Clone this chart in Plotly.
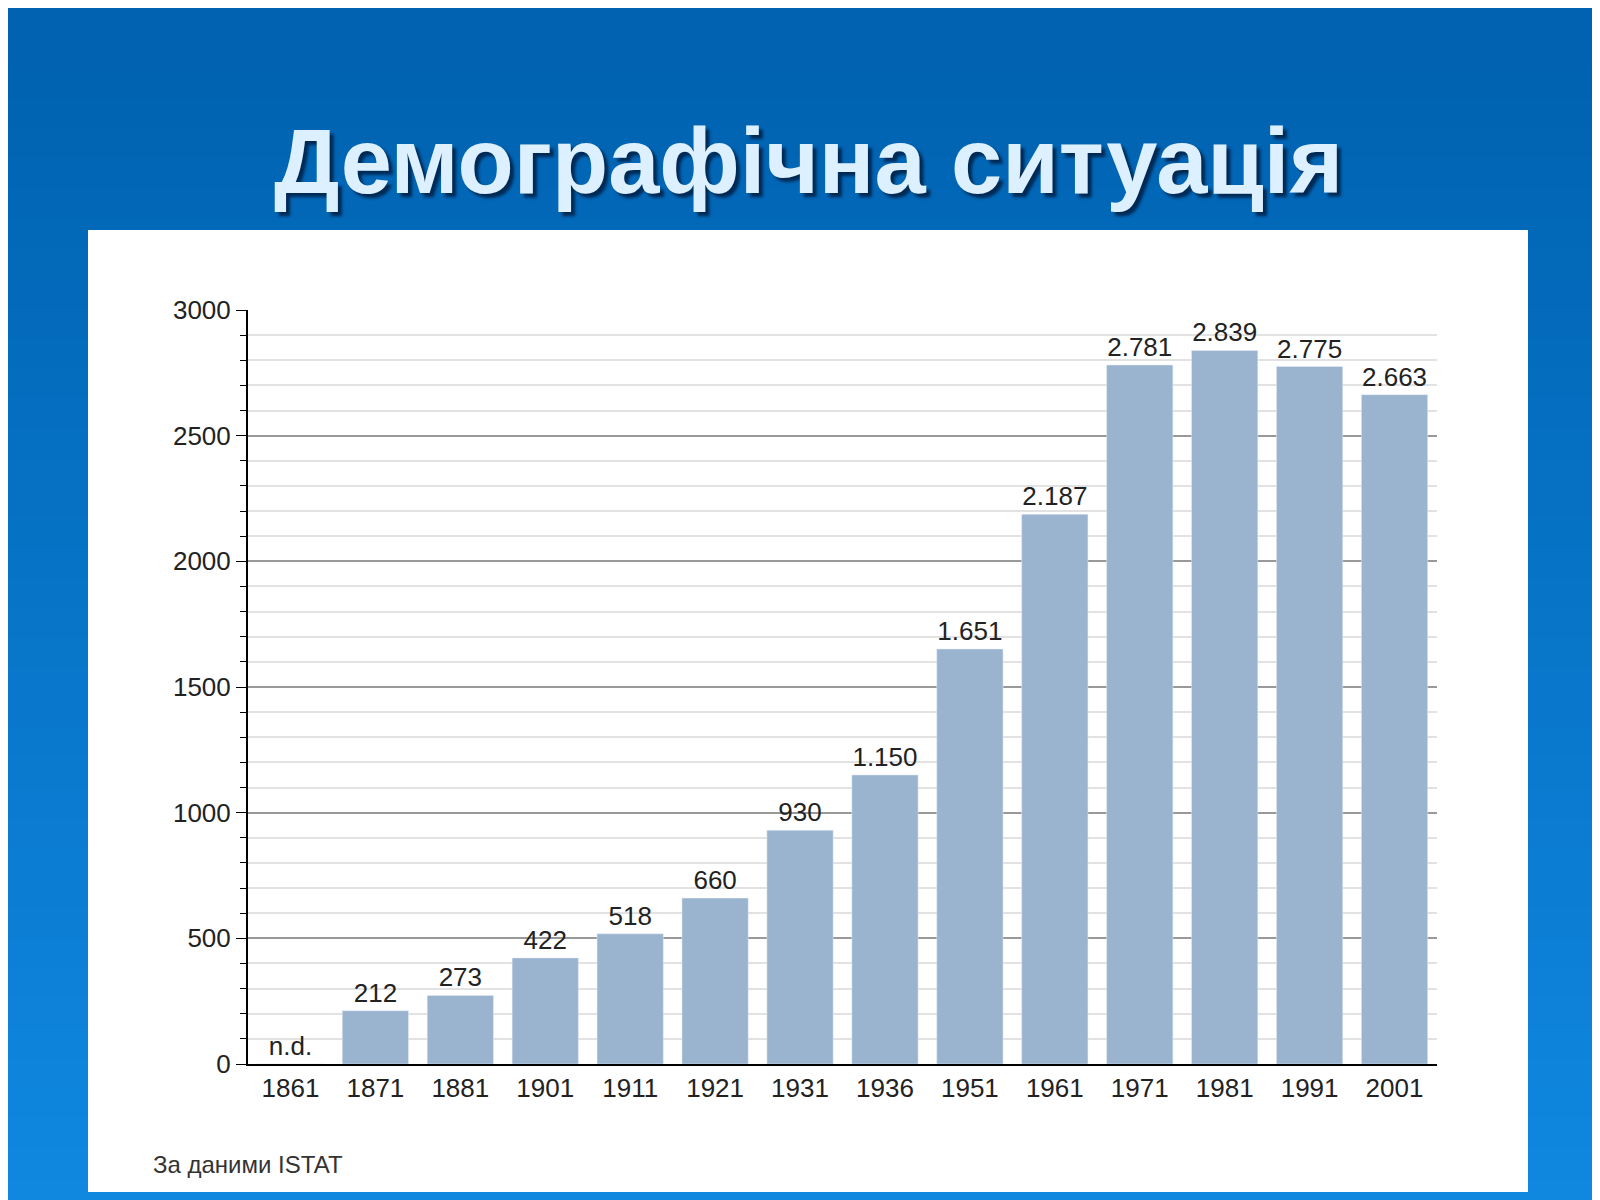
import plotly.graph_objects as go

years = ["1861", "1871", "1881", "1901", "1911", "1921", "1931", "1936",
         "1951", "1961", "1971", "1981", "1991", "2001"]
population = [0, 212, 273, 422, 518, 660, 930, 1150, 1651, 2187, 2781, 2839, 2775, 2663]
labels = ["n.d.", "212", "273", "422", "518", "660", "930", "1.150",
          "1.651", "2.187", "2.781", "2.839", "2.775", "2.663"]

W, H = 1600, 1200
L, R, T, B = 240, 171, 302, 144
pw, ph = W - L - R, H - T - B

def px(x):
    return (x - L) / pw

def py(y):
    return 1 - (y - T) / ph

fig = go.Figure(go.Bar(
    x=years, y=population, text=labels, textposition="outside",
    textfont=dict(size=26, color="#222"), cliponaxis=False,
    marker_color="#9ab3cf", width=0.78,
))

shapes = []
# blue gradient background made of stripes
n = 40
for i in range(n):
    t = i / (n - 1)
    r = int(0x00 + t * 0x10)
    g = int(0x62 + t * 0x26)
    b = int(0xb0 + t * 0x30)
    shapes.append(dict(type="rect", xref="paper", yref="paper", layer="below",
                       x0=px(-20), x1=px(W + 20), y0=py(H * i / n - (20 if i == 0 else 0)),
                       y1=py(H * (i + 1) / n + 1),
                       fillcolor=f"rgb({r},{g},{b})", line_width=0))
shapes.append(dict(type="rect", xref="paper", yref="paper", layer="below",
                   x0=px(80), x1=px(1520), y0=py(222), y1=py(1184),
                   fillcolor="white", line_width=0))
fig.update_layout(shapes=shapes)

fig.add_annotation(text="<b>Демографічна ситуація</b>", xref="paper", yref="paper",
                   x=px(800), y=py(153), xanchor="center", yanchor="middle", showarrow=False,
                   font=dict(family="Liberation Sans", size=92, color="#dcf0ff",
                             shadow="4px 4px 3px #002a55"))
fig.add_annotation(text="За даними ISTAT", xref="paper", yref="paper",
                   x=px(143), y=py(1156), xanchor="left", yanchor="middle", showarrow=False,
                   font=dict(family="Liberation Sans", size=24, color="#333"))

fig.update_layout(
    width=W, height=H, margin=dict(l=L, r=R, t=T, b=B),
    paper_bgcolor="#0068b8", plot_bgcolor="rgba(0,0,0,0)",
    font=dict(family="Liberation Sans", color="#222"),
    showlegend=False, bargap=0.22,
)
fig.update_yaxes(range=[0, 3000], dtick=500, gridcolor="#999999", gridwidth=1.5,
                 ticks="outside", ticklen=10, tickcolor="black",
                 showline=True, linecolor="black", linewidth=2,
                 tickfont=dict(size=26), zeroline=False,
                 minor=dict(dtick=100, showgrid=True, gridcolor="#e2e2e2",
                            ticks="outside", ticklen=6, tickcolor="black"))
fig.update_xaxes(showline=True, linecolor="black", linewidth=2,
                 tickfont=dict(size=26), ticks="")

fig.write_html("out.html")
